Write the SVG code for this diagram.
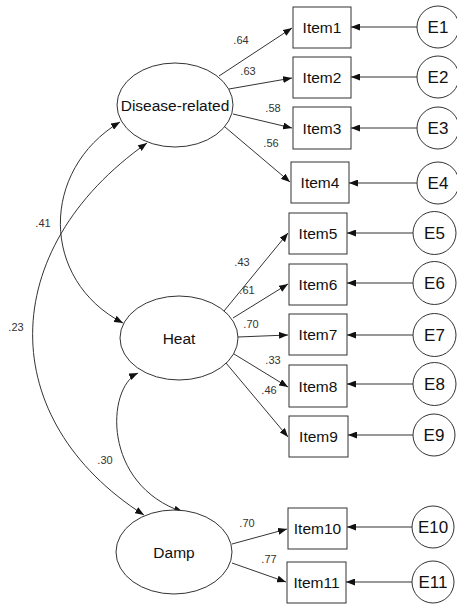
<svg xmlns="http://www.w3.org/2000/svg" width="457" height="608" viewBox="0 0 457 608">
<style>
.box{fill:#fff;stroke:#333;stroke-width:1}
.lat{fill:#fff;stroke:#333;stroke-width:1}
.t{font-family:"Liberation Sans",Arial,sans-serif;font-size:15.5px;fill:#111;text-anchor:middle}
.e{font-family:"Liberation Sans",Arial,sans-serif;font-size:17px;fill:#111;text-anchor:middle}
.l{font-family:"Liberation Sans",Arial,sans-serif;font-size:11px;fill:#333;text-anchor:middle}
.c{fill:none;stroke:#333;stroke-width:1}
</style>
<defs>
<marker id="ah" markerWidth="9" markerHeight="7" refX="9" refY="3.5" orient="auto-start-reverse" markerUnits="userSpaceOnUse">
<path d="M0,0 L9,3.5 L0,7 z" fill="#111"/>
</marker>
</defs>
<rect width="457" height="608" fill="#fff"/>
<g id="connectors">
<path class="c" d="M219,76 L292,28" marker-end="url(#ah)"/>
<path class="c" d="M229,89 L292,78" marker-end="url(#ah)"/>
<path class="c" d="M233,114 L292,128" marker-end="url(#ah)"/>
<path class="c" d="M225,127 L290,182" marker-end="url(#ah)"/>
<path class="c" d="M224,311 L288,233" marker-end="url(#ah)"/>
<path class="c" d="M233,318 L288,284" marker-end="url(#ah)"/>
<path class="c" d="M238,337 L288,335" marker-end="url(#ah)"/>
<path class="c" d="M234,354 L288,387" marker-end="url(#ah)"/>
<path class="c" d="M226,363 L288,437" marker-end="url(#ah)"/>
<path class="c" d="M232,544 L287,529" marker-end="url(#ah)"/>
<path class="c" d="M232,563 L286,582" marker-end="url(#ah)"/>
<path class="c" d="M417,27 L351,27" marker-end="url(#ah)"/>
<path class="c" d="M417,77 L351,77" marker-end="url(#ah)"/>
<path class="c" d="M417,128 L351,128" marker-end="url(#ah)"/>
<path class="c" d="M417,183 L349,183" marker-end="url(#ah)"/>
<path class="c" d="M413,233 L347,233" marker-end="url(#ah)"/>
<path class="c" d="M413,283 L347,283" marker-end="url(#ah)"/>
<path class="c" d="M413,335 L347,335" marker-end="url(#ah)"/>
<path class="c" d="M413,384 L347,384" marker-end="url(#ah)"/>
<path class="c" d="M413,435 L348,435" marker-end="url(#ah)"/>
<path class="c" d="M412,527 L347,527" marker-end="url(#ah)"/>
<path class="c" d="M412,582 L346,582" marker-end="url(#ah)"/>
<path class="c" d="M120,122 C40,170 40,280 123,323" marker-start="url(#ah)" marker-end="url(#ah)"/>
<path class="c" d="M147,143 C-5,250 -5,420 144,515" marker-start="url(#ah)" marker-end="url(#ah)"/>
<path class="c" d="M138,373 C106,388 102,485 183,512" marker-start="url(#ah)" marker-end="url(#ah)"/>
<text class="l" x="241" y="44">.64</text>
<text class="l" x="248" y="75">.63</text>
<text class="l" x="273" y="112">.58</text>
<text class="l" x="271" y="147">.56</text>
<text class="l" x="242" y="266">.43</text>
<text class="l" x="247" y="294">.61</text>
<text class="l" x="251" y="328">.70</text>
<text class="l" x="273" y="364">.33</text>
<text class="l" x="269" y="394">.46</text>
<text class="l" x="247" y="527">.70</text>
<text class="l" x="269" y="563">.77</text>
<text class="l" x="43" y="227">.41</text>
<text class="l" x="16" y="331">.23</text>
<text class="l" x="105" y="464">.30</text>
</g>
<g id="Disease-related"><ellipse class="lat" cx="175" cy="105" rx="58" ry="42"/><text class="t" x="175" y="110.5">Disease-related</text></g>
<g id="Heat"><ellipse class="lat" cx="179" cy="338" rx="59" ry="42"/><text class="t" x="179" y="343.5">Heat</text></g>
<g id="Damp"><ellipse class="lat" cx="174" cy="552" rx="58" ry="42"/><text class="t" x="174" y="557.5">Damp</text></g>
<g id="Item1"><rect class="box" x="293" y="7" width="58" height="41"/><text class="t" x="322" y="33">Item1</text></g>
<g id="Item2"><rect class="box" x="293" y="57" width="58" height="41"/><text class="t" x="322" y="83">Item2</text></g>
<g id="Item3"><rect class="box" x="293" y="107" width="58" height="42"/><text class="t" x="322" y="133.5">Item3</text></g>
<g id="Item4"><rect class="box" x="291" y="162" width="58" height="41"/><text class="t" x="320" y="188">Item4</text></g>
<g id="Item5"><rect class="box" x="289" y="213" width="58" height="41"/><text class="t" x="318" y="239">Item5</text></g>
<g id="Item6"><rect class="box" x="289" y="264" width="58" height="41"/><text class="t" x="318" y="290">Item6</text></g>
<g id="Item7"><rect class="box" x="289" y="314" width="58" height="41"/><text class="t" x="318" y="340">Item7</text></g>
<g id="Item8"><rect class="box" x="289" y="365" width="58" height="42"/><text class="t" x="318" y="391.5">Item8</text></g>
<g id="Item9"><rect class="box" x="289" y="416" width="59" height="41"/><text class="t" x="318.5" y="442">Item9</text></g>
<g id="Item10"><rect class="box" x="288" y="508" width="59" height="41"/><text class="t" x="317.5" y="534">Item10</text></g>
<g id="Item11"><rect class="box" x="287" y="562" width="59" height="41"/><text class="t" x="316.5" y="588">Item11</text></g>
<g id="E1"><circle class="lat" cx="438" cy="27" r="21"/><text class="e" x="438" y="33">E1</text></g>
<g id="E2"><circle class="lat" cx="438" cy="77" r="21"/><text class="e" x="438" y="83">E2</text></g>
<g id="E3"><circle class="lat" cx="438" cy="128" r="21"/><text class="e" x="438" y="134">E3</text></g>
<g id="E4"><circle class="lat" cx="438" cy="183" r="21"/><text class="e" x="438" y="189">E4</text></g>
<g id="E5"><circle class="lat" cx="434.5" cy="233" r="21.5"/><text class="e" x="434.5" y="239">E5</text></g>
<g id="E6"><circle class="lat" cx="434.5" cy="283" r="21.5"/><text class="e" x="434.5" y="289">E6</text></g>
<g id="E7"><circle class="lat" cx="434.5" cy="335" r="21.5"/><text class="e" x="434.5" y="341">E7</text></g>
<g id="E8"><circle class="lat" cx="434.5" cy="384" r="21.5"/><text class="e" x="434.5" y="390">E8</text></g>
<g id="E9"><circle class="lat" cx="434" cy="435" r="21"/><text class="e" x="434" y="441">E9</text></g>
<g id="E10"><circle class="lat" cx="433" cy="527" r="21"/><text class="e" x="433" y="533">E10</text></g>
<g id="E11"><circle class="lat" cx="433" cy="582" r="21"/><text class="e" x="433" y="588">E11</text></g>
</svg>
